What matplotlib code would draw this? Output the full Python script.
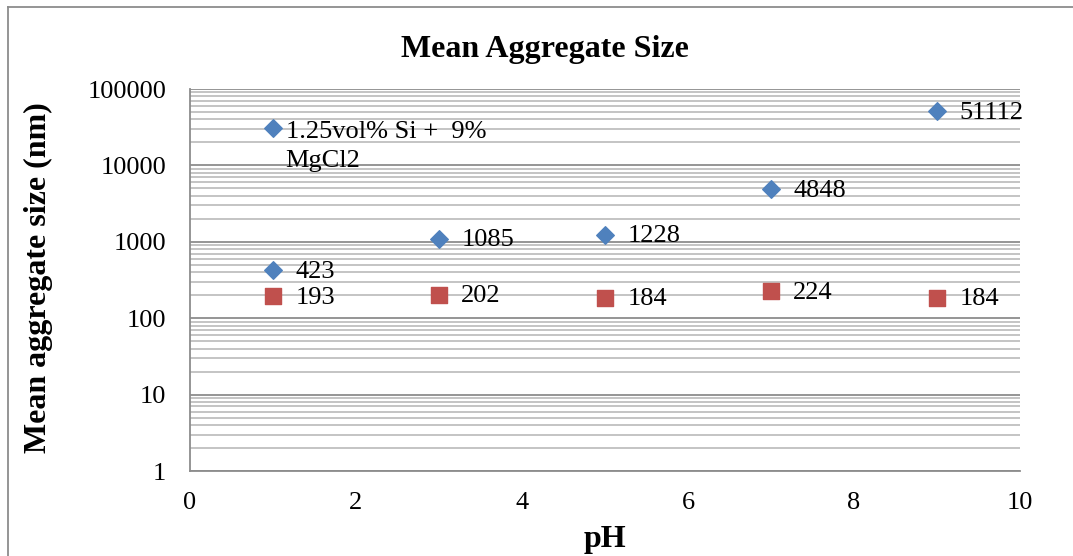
import matplotlib.pyplot as plt
import numpy as np
from matplotlib.lines import Line2D
from matplotlib.ticker import LogLocator, FixedLocator

plt.rcParams['font.family'] = ['Liberation Serif', 'DejaVu Serif']

# data
ph = [1, 3, 5, 7, 9]
blue_size = [423, 1085, 1228, 4848, 51112]
red_size = [193, 202, 184, 224, 184]
series_x = 1
series_y = 31000
series_name = "1.25vol% Si +  9%\nMgCl2"

yticks = [1, 10, 100, 1000, 10000, 100000]
xticks = [0, 2, 4, 6, 8, 10]

blue = '#4F81BD'
red = '#C0504D'

fig = plt.figure(figsize=(10.73, 5.56), dpi=100)
ax = fig.add_axes([190/1073, 1 - 471/556, 830/1073, 382/556])

ax.set_yscale('log')
ax.set_ylim(1, 100000)
ax.set_xlim(0, 10)

# gridlines like excel: major darker, minor lighter
ax.yaxis.set_major_locator(FixedLocator(yticks))
ax.yaxis.set_minor_locator(LogLocator(base=10, subs=np.arange(2, 10)))
ax.grid(axis='y', which='major', color='#8c8c8c', lw=1.3)
ax.grid(axis='y', which='minor', color='#bfbfbf', lw=1.3)
ax.set_axisbelow(True)
ax.set_yticks(yticks)
ax.set_yticklabels([str(v) for v in yticks])
ax.set_xticks(xticks)
ax.tick_params(axis='both', which='both', length=0, labelsize=19)
ax.tick_params(axis='x', pad=15)
ax.tick_params(axis='y', pad=17)

for s in ['top', 'right']:
    ax.spines[s].set_visible(False)
for s in ['left', 'bottom']:
    ax.spines[s].set_color('#8c8c8c')
    ax.spines[s].set_linewidth(1.3)

ax.scatter(ph, blue_size, marker='D', s=80, color=blue, zorder=3, clip_on=False)
ax.scatter(ph, red_size, marker='s', s=130, color=red, zorder=3, clip_on=False)
ax.scatter([series_x], [series_y], marker='D', s=80, color=blue, zorder=3)

for x, y in zip(ph, blue_size):
    ax.annotate(str(y), (x, y), xytext=(16, -1), textcoords='offset points',
                ha='left', va='center', fontsize=19)
for x, y in zip(ph, red_size):
    ax.annotate(str(y), (x, y), xytext=(16, -1), textcoords='offset points',
                ha='left', va='center', fontsize=19)
ax.annotate(series_name, (series_x, series_y), xytext=(9, 5), textcoords='offset points',
            ha='left', va='top', fontsize=19, linespacing=1.4)

fig.text(545/1073, 1 - 50/556, 'Mean Aggregate Size', ha='center', va='center',
         fontsize=23, fontweight='bold')
fig.text(38/1073, 1 - 278/556, 'Mean aggregate size (nm)', ha='center', va='center',
         rotation=90, fontsize=23, fontweight='bold')
fig.text(605/1073, 1 - 540/556, 'pH', ha='center', va='center',
         fontsize=23, fontweight='bold')

# outer chart border (left and top visible)
fig.add_artist(Line2D([8/1073, 8/1073], [0, 1 - 7/556], color='#8c8c8c', lw=1.3))
fig.add_artist(Line2D([8/1073, 1], [1 - 7/556, 1 - 7/556], color='#8c8c8c', lw=1.3))

fig.savefig('out.png', dpi=100)
